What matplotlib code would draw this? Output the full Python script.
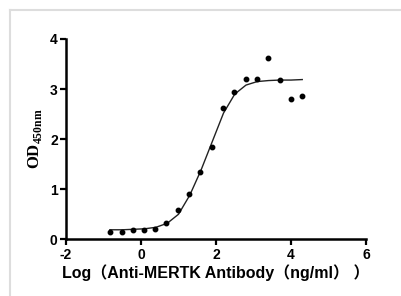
import matplotlib
matplotlib.use("Agg")
import matplotlib.pyplot as plt
from matplotlib.lines import Line2D

# measured points: log concentration vs OD450
log_conc = [-0.83, -0.51, -0.22, 0.08, 0.37, 0.67, 0.98, 1.28, 1.57,
            1.88, 2.18, 2.49, 2.79, 3.09, 3.39, 3.70, 4.00, 4.29]
od450 = [0.15, 0.15, 0.19, 0.19, 0.21, 0.32, 0.58, 0.91, 1.35,
         1.85, 2.63, 2.95, 3.20, 3.20, 3.63, 3.19, 2.81, 2.87]

# fitted curve
fit_x = [-0.83, -0.5, -0.2, 0.1, 0.4, 0.7, 1.0, 1.3, 1.6,
         1.9, 2.2, 2.5, 2.8, 3.1, 3.4, 3.7, 4.0, 4.3]
fit_y = [0.19, 0.19, 0.20, 0.21, 0.24, 0.32, 0.50, 0.88, 1.38,
         1.95, 2.52, 2.90, 3.08, 3.15, 3.17, 3.18, 3.18, 3.19]

x_ticks = [-2, 0, 2, 4, 6]
y_ticks = [0, 1, 2, 3, 4]

plt.rcParams["font.family"] = ["Liberation Sans", "Noto Sans CJK SC"]
plt.rcParams["font.weight"] = "bold"
plt.rcParams["axes.unicode_minus"] = False
plt.rcParams["mathtext.fontset"] = "custom"
plt.rcParams["mathtext.bf"] = "Liberation Serif:bold"
plt.rcParams["mathtext.rm"] = "Liberation Serif:bold"

fig = plt.figure(figsize=(4.01, 2.96), dpi=100)
ax = fig.add_axes([66 / 401, 1 - 239.3 / 296, 300 / 401, 200.3 / 296])

ax.plot(fit_x, fit_y, color="#222222", lw=1.0)
ax.plot(log_conc, od450, "o", color="black", ms=3.2, mec="black")

ax.set_xlim(-2, 6)
ax.set_ylim(0, 4)
ax.set_xticks(x_ticks)
ax.set_yticks(y_ticks)
ax.set_xticklabels([str(v) for v in x_ticks], fontsize=10, fontweight="bold")
ax.set_yticklabels([str(v) for v in y_ticks], fontsize=10, fontweight="bold")
for s in ("top", "right"):
    ax.spines[s].set_visible(False)
for s in ("left", "bottom"):
    ax.spines[s].set_linewidth(1.8)
ax.tick_params(width=1.6, length=4, direction="out", pad=2)

ax.set_ylabel(r"OD$_{\mathbf{450nm}}$", family="Liberation Serif",
              fontweight="bold", fontsize=12, labelpad=4)

ax.set_xlabel("Log（Anti-MERTK Antibody（ng/ml） ）", fontweight="bold",
              fontsize=11.5, labelpad=2)

# light gray frame of the original screenshot
fig.add_artist(Line2D([10 / 401, 1], [1 - 10 / 296, 1 - 10 / 296],
                      color="#dddddd", lw=1.5, transform=fig.transFigure))
fig.add_artist(Line2D([10 / 401, 10 / 401], [0, 1 - 10 / 296],
                      color="#dddddd", lw=1.5, transform=fig.transFigure))

fig.savefig("out.png", dpi=100)
